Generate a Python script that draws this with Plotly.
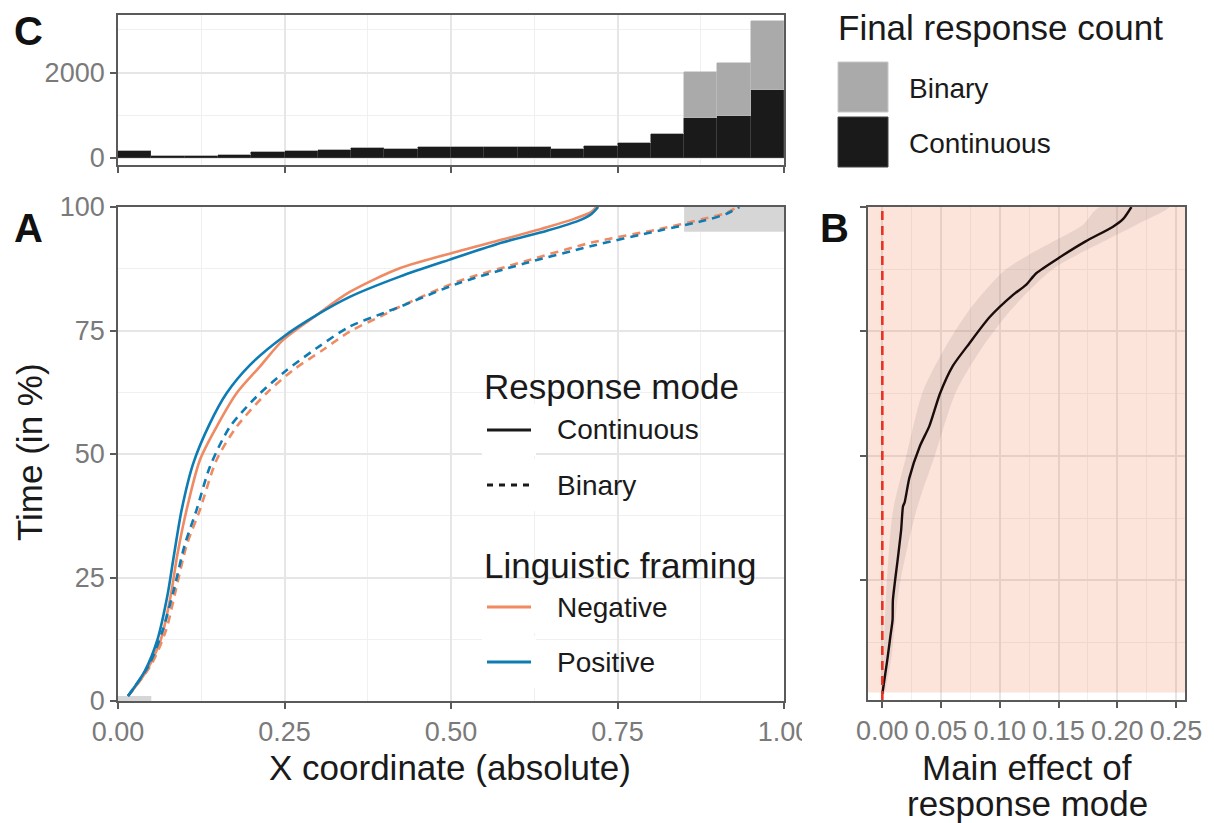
import plotly.graph_objects as go

W, H = 1214, 823
FONT = "Liberation Sans"

# ---------------- data ----------------
# Panel C: histogram of final responses (bins of width 0.05)
bin_centers = [0.025 + 0.05 * i for i in range(20)]
count_continuous = [156, 47, 47, 70, 133, 156, 195, 242, 211, 250,
                    250, 266, 266, 211, 273, 344, 570, 938, 992, 1602]
count_binary = [0, 0, 0, 0, 0, 0, 0, 0, 0, 0,
                0, 0, 0, 0, 0, 0, 0, 1085, 1235, 1600]

# Panel A: trajectories (x coordinate vs time %)
cont_pos_x = [0.015, 0.040, 0.059, 0.074, 0.084, 0.0956, 0.113, 0.138, 0.163, 0.198, 0.248,
              0.298, 0.348, 0.423, 0.497, 0.577, 0.644, 0.691, 0.711, 0.721]
cont_pos_t = [1.0, 6.0, 12.3, 21.2, 29.5, 38.7, 48.1, 56.2, 62.3, 68.0, 73.7,
              78.1, 81.8, 85.9, 89.3, 92.8, 95.2, 97.2, 98.6, 100]
cont_neg_x = [0.015, 0.040, 0.064, 0.079, 0.089, 0.103, 0.123, 0.148, 0.178, 0.213, 0.248,
              0.298, 0.348, 0.423, 0.510, 0.577, 0.644, 0.685, 0.711, 0.718]
cont_neg_t = [1.0, 5.5, 12.3, 21.2, 29.5, 38.7, 48.8, 55.5, 62.3, 67.7, 73.1,
              78.1, 82.8, 87.6, 91.0, 93.4, 95.9, 97.6, 99.0, 100]
bin_pos_x = [0.015, 0.047, 0.067, 0.084, 0.100, 0.118, 0.138, 0.168, 0.208, 0.248, 0.298,
             0.348, 0.398, 0.423, 0.510, 0.611, 0.711, 0.812, 0.879, 0.913, 0.933]
bin_pos_t = [1.0, 7.4, 14.3, 22.6, 31.5, 38.7, 47.4, 55.5, 61.6, 66.4, 71.4,
             75.8, 78.5, 79.8, 84.5, 88.6, 92.1, 95.2, 97.2, 98.6, 100]
bin_neg_x = [0.015, 0.050, 0.072, 0.087, 0.103, 0.123, 0.148, 0.178, 0.223, 0.263, 0.308,
             0.348, 0.398, 0.423, 0.510, 0.611, 0.711, 0.812, 0.879, 0.913, 0.930]
bin_neg_t = [1.0, 7.4, 14.3, 22.6, 31.5, 38.7, 48.8, 55.5, 62.3, 67.0, 71.1,
             74.8, 78.1, 79.8, 84.9, 89.0, 92.8, 95.5, 97.6, 98.8, 100]

# grey zones in panel A (x0, x1, t0, t1)
zone_x0 = [0.85, 0.0]
zone_x1 = [1.0, 0.05]
zone_t0 = [95.0, 0.0]
zone_t1 = [100.0, 1.0]

# Panel B: main effect of response mode over time
effect_t = [2.2, 9.0, 13.7, 17.1, 21.1, 29.1, 35.1, 39.9, 40.7, 45.6, 52.0, 56.0, 62.5, 68.1,
            72.6, 77.8, 82.3, 84.3, 86.7, 89.9, 93.1, 96.0, 97.6, 100]
effect_x = [0.0, 0.0042, 0.0068, 0.0087, 0.0090, 0.0130, 0.0160, 0.0176, 0.019, 0.023, 0.032,
            0.040, 0.049, 0.060, 0.074, 0.091, 0.111, 0.122, 0.131, 0.151, 0.173, 0.196, 0.205, 0.212]
ribbon_t = [2.2, 10, 23, 39, 50, 63, 71, 79.4, 87.5, 93, 96.4, 100]
ribbon_lo = [0.0, 0.001, 0.0034, 0.0091, 0.0204, 0.0346, 0.0516, 0.0743, 0.1054, 0.145, 0.1706, 0.185]
ribbon_hi = [0.002, 0.008, 0.014, 0.0289, 0.0445, 0.0629, 0.0828, 0.1097, 0.145, 0.1876, 0.216, 0.244]
signif_t0 = 2.5
B_xrange = [-0.0122, 0.2576]
B_yrange = [1.0, 100]

# ---------------- styles ----------------
ORANGE = "#EF8A62"
BLUE = "#0E7CB4"
DASH = "8px,6px"
LW = 2.6
BORDER = "#5a5a5a"
TICKC = "#7a7a7a"
GRID = "#E6E6E6"
GRIDMIN = "#F0F0F0"
TITLE_SIZE = 35
LABEL_SIZE = 28


def px(x):
    return x / W


def py(y):
    return 1 - y / H


fig = go.Figure()

# Panel C histogram
fig.add_trace(go.Bar(x=bin_centers, y=count_continuous, width=0.05, marker_color="#1A1A1A",
                     marker_line=dict(color="#444444", width=0.6), xaxis="x", yaxis="y",
                     showlegend=False, name="Continuous"))
fig.add_trace(go.Bar(x=bin_centers, y=count_binary, width=0.05, marker_color="#AAAAAA",
                     marker_line=dict(color="#BDBDBD", width=0.6), xaxis="x", yaxis="y",
                     showlegend=False, name="Binary"))

# Panel A curves
for xs, ts, col, dash in [
    (cont_neg_x, cont_neg_t, ORANGE, "solid"),
    (bin_neg_x, bin_neg_t, ORANGE, DASH),
    (cont_pos_x, cont_pos_t, BLUE, "solid"),
    (bin_pos_x, bin_pos_t, BLUE, DASH),
]:
    fig.add_trace(go.Scatter(x=xs, y=ts, mode="lines",
                             line=dict(color=col, width=LW, dash=dash, shape="spline", smoothing=0.8),
                             xaxis="x2", yaxis="y2", showlegend=False))

# Panel B ribbon + line
fig.add_trace(go.Scatter(x=ribbon_lo + ribbon_hi[::-1], y=ribbon_t + ribbon_t[::-1],
                         fill="toself", fillcolor="rgba(110,90,90,0.13)",
                         line=dict(width=0, shape="spline", smoothing=0.8),
                         mode="lines", xaxis="x3", yaxis="y3", showlegend=False, hoverinfo="skip"))
fig.add_trace(go.Scatter(x=effect_x, y=effect_t, mode="lines",
                         line=dict(color="#1a0c0c", width=2.4, shape="spline", smoothing=0.6),
                         xaxis="x3", yaxis="y3", showlegend=False))
fig.add_trace(go.Scatter(x=[0, 0], y=B_yrange, mode="lines",
                         line=dict(color="#E63325", width=2.6, dash="9px,6px"),
                         xaxis="x3", yaxis="y3", showlegend=False))

shapes = []
# grey zones in A
for x0, x1, t0, t1 in zip(zone_x0, zone_x1, zone_t0, zone_t1):
    shapes.append(dict(type="rect", xref="x2", yref="y2", x0=x0, x1=x1, y0=t0, y1=t1,
                       fillcolor="#D6D6D6", line=dict(width=0), layer="between"))
# pink significance area in B
shapes.append(dict(type="rect", xref="x3", yref="y3", x0=B_xrange[0], x1=B_xrange[1],
                   y0=signif_t0, y1=B_yrange[1],
                   fillcolor="rgba(240,110,60,0.19)", line=dict(width=0), layer="between"))
# panel A's last tick label is clipped by panel B's area in the original
shapes.append(dict(type="rect", xref="paper", yref="paper", x0=px(802), x1=px(852),
                   y0=py(748), y1=py(706), fillcolor="white", line=dict(width=0), layer="above"))

annotations = []


def txt(text, x, y, size, color="#1a1a1a", xanchor="left", bold=False, angle=0):
    annotations.append(dict(text=("<b>%s</b>" % text) if bold else text, x=px(x), y=py(y),
                            xref="paper", yref="paper", xanchor=xanchor, yanchor="middle",
                            showarrow=False, textangle=angle,
                            font=dict(family=FONT, size=size, color=color)))


# panel letters
txt("C", 28, 31, 40, "#111111", "center", True)
txt("A", 28, 228, 40, "#111111", "center", True)
txt("B", 834, 228, 40, "#111111", "center", True)

# axis titles
txt("X coordinate (absolute)", 450, 767, TITLE_SIZE, xanchor="center")
txt("Time (in %)", 29, 452, TITLE_SIZE, xanchor="center", angle=-90)
txt("Main effect of", 1027, 767, TITLE_SIZE, xanchor="center")
txt("response mode", 1027, 803, TITLE_SIZE, xanchor="center")

# top legend
txt("Final response count", 836, 28, TITLE_SIZE)
shapes.append(dict(type="rect", xref="paper", yref="paper", x0=px(838), x1=px(888),
                   y0=py(112), y1=py(62), fillcolor="#AAAAAA", line=dict(color="#C8C8C8", width=1)))
shapes.append(dict(type="rect", xref="paper", yref="paper", x0=px(838), x1=px(888),
                   y0=py(167), y1=py(117), fillcolor="#1A1A1A", line=dict(color="#444444", width=1)))
txt("Binary", 907, 88, LABEL_SIZE)
txt("Continuous", 907, 143, LABEL_SIZE)

# inner legend in panel A (white key backgrounds, then key lines)
for yc in [430, 485, 607, 662]:
    shapes.append(dict(type="rect", xref="paper", yref="paper", x0=px(482), x1=px(536),
                       y0=py(yc + 26), y1=py(yc - 26), fillcolor="white", line=dict(width=0),
                       layer="above"))
txt("Response mode", 482, 386, TITLE_SIZE)
txt("Linguistic framing", 482, 565, TITLE_SIZE)
legend_rows = [(430, "#1a1a1a", "solid", "Continuous"), (485, "#1a1a1a", DASH, "Binary"),
               (607, ORANGE, "solid", "Negative"), (662, BLUE, "solid", "Positive")]
for yc, col, dash, lab in legend_rows:
    shapes.append(dict(type="line", xref="paper", yref="paper", x0=px(487), x1=px(531),
                       y0=py(yc), y1=py(yc), layer="above",
                       line=dict(color=col, width=2.8,
                                 dash=("6px,6px" if dash != "solid" else "solid"))))
    txt(lab, 555, yc, LABEL_SIZE)

tickfont = dict(family=FONT, size=27, color=TICKC)
common = dict(showline=True, mirror=True, linecolor=BORDER, linewidth=1.8, ticks="outside",
              ticklen=6, tickwidth=1.8, tickcolor=BORDER, tickfont=tickfont, zeroline=False,
              showgrid=True, gridcolor=GRID, gridwidth=1.6, tickangle=0, automargin=False)
minor_style = dict(showgrid=True, gridcolor=GRIDMIN, gridwidth=1.0, ticks="")

xdom = [px(118), px(784)]
fig.update_layout(
    width=W, height=H, margin=dict(l=0, r=0, t=0, b=0, pad=0, autoexpand=False),
    paper_bgcolor="white", plot_bgcolor="white",
    barmode="stack", bargap=0, showlegend=False,
    shapes=shapes, annotations=annotations,
    xaxis=dict(domain=xdom, anchor="y", range=[0, 1], dtick=0.25, showticklabels=False,
               minor=dict(dtick=0.125, **minor_style), **common),
    yaxis=dict(domain=[py(165), py(15)], anchor="x", range=[-165, 3350], tickvals=[0, 2000],
               minor=dict(tickvals=[1000, 3000], **minor_style), **common),
    xaxis2=dict(domain=xdom, anchor="y2", range=[0, 1], dtick=0.25, tickformat=".2f",
                minor=dict(dtick=0.125, **minor_style), **common),
    yaxis2=dict(domain=[py(701), py(207)], anchor="x2", range=[0, 100], dtick=25,
                minor=dict(dtick=12.5, **minor_style), **common),
    xaxis3=dict(domain=[px(868), px(1185)], anchor="y3", range=B_xrange, dtick=0.05,
                tickformat=".2f", minor=dict(dtick=0.025, **minor_style), **common),
    yaxis3=dict(domain=[py(700), py(207)], anchor="x3", range=B_yrange, tickvals=[25, 50, 75, 100],
                showticklabels=False,
                minor=dict(tickvals=[12.5, 37.5, 62.5, 87.5], **minor_style), **common),
)

# remove the default page margin so the figure fills the window exactly
fig.write_html("out.html", config={"displayModeBar": False},
               post_script="document.body.style.margin='0';document.body.style.overflow='hidden';")
